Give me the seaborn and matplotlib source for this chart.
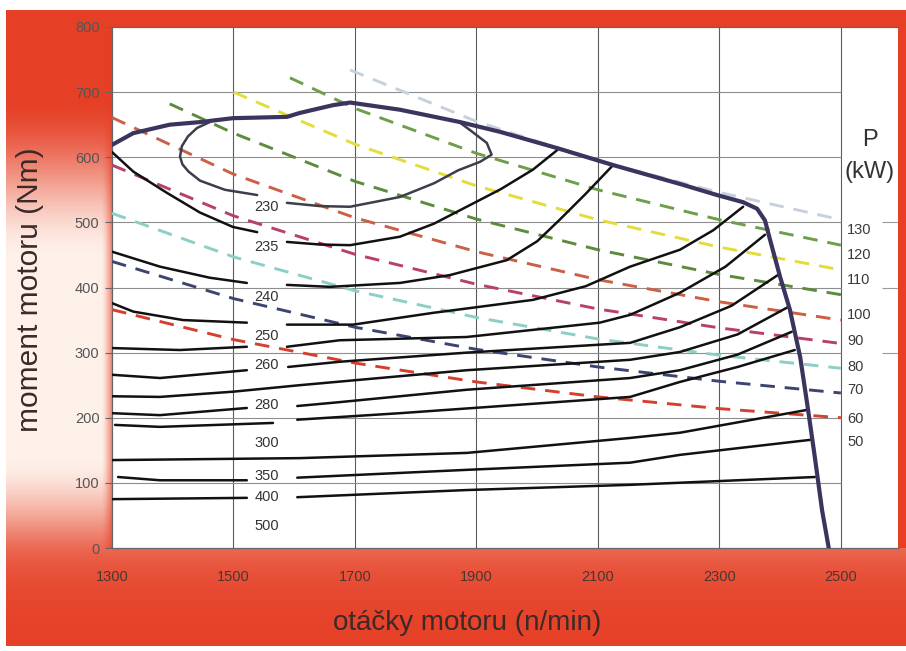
import numpy as np
import matplotlib
matplotlib.use("Agg")
import matplotlib.pyplot as plt
import seaborn as sns

# ---------------------------------------------------------------- data
# full-load torque curve (rpm, Nm)
full_load_rpm = [1300, 1335, 1395, 1445, 1499, 1588, 1609, 1664, 1692, 1774, 1873,
                 1939, 2033, 2125, 2235, 2296, 2339, 2362, 2375, 2382, 2400, 2416,
                 2433, 2446, 2457, 2469, 2480]
full_load_nm = [619, 637, 650, 654, 660, 662, 668, 680, 684, 673, 654,
                639, 614, 588, 559, 542, 531, 521, 503, 478, 416, 366,
                293, 212, 140, 58, 0]

# specific fuel consumption iso-lines (None = break for the inline label)
island_rpm = [1461, 1440, 1425, 1415, 1412, 1416, 1426, 1445, 1486, 1539, None,
              1588, 1642, 1692, 1774, 1830, 1870, 1906, 1925, 1917, 1889, 1873]
island_nm = [654, 645, 632, 617, 601, 589, 578, 564, 550, 542, None,
             530, 525, 524, 539, 560, 580, 593, 604, 622, 642, 653]

c235_rpm = [1300, 1335, 1391, 1445, 1499, 1539, None, 1588, 1642, 1692, 1774, 1830,
            1884, 1940, 1993, 2033]
c235_nm = [608, 578, 545, 515, 493, 485, None, 470, 466, 465, 478, 498,
           524, 551, 581, 611]

c240_rpm = [1300, 1379, 1461, 1522, None, 1588, 1659, 1774, 1856, 1950, 2000, 2037, 2080, 2125]
c240_nm = [455, 432, 415, 407, None, 404, 401, 407, 419, 442, 471, 504, 544, 588]

c250_rpm = [1300, 1335, 1417, 1522, None, 1588, 1697, 1828, 1993, 2080, 2153, 2235, 2290, 2339]
c250_nm = [376, 363, 350, 346, None, 343, 343, 361, 381, 402, 432, 458, 488, 524]

c255_rpm = [1300, 1412, 1522, None, 1588, 1675, 1884, 2103, 2153, 2235, 2310, 2375]
c255_nm = [307, 304, 309, None, 309, 319, 324, 346, 358, 392, 432, 481]

c260_rpm = [1300, 1379, 1522, None, 1590, 1675, 1884, 2153, 2235, 2320, 2396]
c260_nm = [266, 261, 273, None, 278, 286, 300, 315, 339, 372, 419]

c270_rpm = [1300, 1379, 1499, 1609, 1884, 2153, 2235, 2330, 2413]
c270_nm = [233, 232, 240, 250, 273, 289, 301, 328, 370]

c280_rpm = [1300, 1379, 1522, None, 1605, 1675, 1884, 2153, 2235, 2330, 2419]
c280_nm = [207, 204, 215, None, 218, 224, 243, 261, 273, 297, 332]

c290_rpm = [1305, 1379, 1565, None, 1605, 1774, 2153, 2235, 2330, 2424]
c290_nm = [189, 186, 192, None, 197, 207, 232, 255, 278, 304]

c300_rpm = [1300, 1609, 1884, 2153, 2235, 2444]
c300_nm = [135, 138, 146, 169, 177, 212]

c350_rpm = [1310, 1379, 1522, None, 1605, 1884, 2153, 2235, 2449]
c350_nm = [109, 104, 104, None, 108, 120, 131, 143, 166]

c400_rpm = [1300, 1522, None, 1605, 1884, 2153, 2457]
c400_nm = [75, 77, None, 78, 89, 97, 109]

bsfc_labels = ["230", "235", "240", "250", "260", "280", "300", "350", "400", "500"]
bsfc_label_nm = [524, 462, 386, 326, 281, 220, 161, 111, 78, 34]

# constant power lines (rpm, Nm)
p130_rpm = [1692, 1900, 2100, 2300, 2500]
p130_nm = [734, 655, 594, 546, 504]
p120_rpm = [1593, 1700, 1900, 2100, 2300, 2500]
p120_nm = [722, 675, 606, 550, 504, 465]
p110_rpm = [1500, 1700, 1900, 2100, 2300, 2500]
p110_nm = [700, 620, 556, 504, 462, 427]
p100_rpm = [1395, 1500, 1700, 1900, 2100, 2300, 2500]
p100_nm = [682, 637, 563, 505, 458, 420, 389]
grid_rpm = [1300, 1500, 1700, 1900, 2100, 2300, 2500]
p90_nm = [661, 574, 507, 455, 412, 378, 350]
p80_nm = [588, 510, 451, 405, 367, 338, 314]
p70_nm = [514, 447, 395, 354, 321, 296, 276]
p60_nm = [440, 383, 339, 305, 278, 256, 238]
p50_nm = [366, 320, 284, 255, 232, 214, 200]

power_labels = ["130", "120", "110", "100", "90", "80", "70", "60", "50"]
power_label_nm = [488, 450, 412, 358, 318, 278, 243, 198, 163]

x_ticks = [1300, 1500, 1700, 1900, 2100, 2300, 2500]
y_ticks = [0, 100, 200, 300, 400, 500, 600, 700, 800]

# ---------------------------------------------------------------- style
sns.set_theme(style="white")
plt.rcParams["font.family"] = ["Liberation Sans", "DejaVu Sans"]

fig = plt.figure(figsize=(9.06, 6.51), dpi=100)

# red backdrop that fades to pale on the left
H, W = 651, 906
yy, xx = np.mgrid[0:H, 0:W].astype(float)


def smooth(t):
    t = np.clip(t, 0, 1)
    return t * t * (3 - 2 * t)


red = np.array([0.90, 0.25, 0.15])
pale = np.array([1.0, 0.975, 0.95])
w = 0.96 * smooth((yy - 95) / 165) * (1 - smooth((yy - 455) / 135))
w *= 1 - smooth((xx - 100) / 20)
glow = 0.22 * np.exp(-np.clip(yy - 548, 0, None) / 30) * (yy >= 548)
w = np.maximum(w, glow)
img = red * (1 - w[..., None]) + pale * w[..., None]
img[:10] = 1
img[:, :6] = 1
img[646:] = 1
bg = fig.add_axes([0, 0, 1, 1], zorder=0)
bg.imshow(img, aspect="auto", interpolation="bilinear")
bg.axis("off")

ax = fig.add_axes([112 / 906, 1 - 548 / 651, 786 / 906, 521 / 651], zorder=1)
ax.set_facecolor("white")

# grid
ax.vlines(x_ticks[1:], 0, 800, color="#5c5c5c", lw=0.8, zorder=1)
ax.hlines(y_ticks[1:-1], 1300, 2500, color="#8e8e8e", lw=0.8, zorder=1)
ax.hlines([300, 400, 500], 2568, 2594, color="#9a9a9a", lw=0.8, zorder=1)


def segments(rpm, nm):
    sx, sy = [], []
    for a, b in zip(rpm, nm):
        if a is None:
            yield sx, sy
            sx, sy = [], []
        else:
            sx.append(a)
            sy.append(b)
    yield sx, sy


def draw(rpm, nm, **kw):
    for sx, sy in segments(rpm, nm):
        sns.lineplot(x=sx, y=sy, sort=False, estimator=None, ax=ax,
                     legend=False, solid_capstyle="round",
                     solid_joinstyle="round", **kw)


# constant power lines
dash = (0, (5, 3.4))
power_lines = [
    (p130_rpm, p130_nm, "#c6d1de"),
    (p120_rpm, p120_nm, "#6e9e4a"),
    (p110_rpm, p110_nm, "#e2dd3a"),
    (p100_rpm, p100_nm, "#5d8b3d"),
    (grid_rpm, p90_nm, "#cc6046"),
    (grid_rpm, p80_nm, "#b8406a"),
    (grid_rpm, p70_nm, "#8ccfc6"),
    (grid_rpm, p60_nm, "#3d4470"),
    (grid_rpm, p50_nm, "#d5402e"),
]
for r, t, c in power_lines:
    sns.lineplot(x=r, y=t, sort=False, estimator=None, ax=ax, legend=False,
                 color=c, lw=2.1, linestyle=dash, zorder=3)

# fuel consumption lines
draw(island_rpm, island_nm, color="#3b3f4c", lw=1.8, zorder=4)
for r, t in [(c235_rpm, c235_nm), (c240_rpm, c240_nm), (c250_rpm, c250_nm),
             (c255_rpm, c255_nm), (c260_rpm, c260_nm), (c270_rpm, c270_nm),
             (c280_rpm, c280_nm), (c290_rpm, c290_nm), (c300_rpm, c300_nm),
             (c350_rpm, c350_nm), (c400_rpm, c400_nm)]:
    draw(r, t, color="#111111", lw=1.8, zorder=4)

# full-load curve
draw(full_load_rpm, full_load_nm, color="#3a345f", lw=3.0, zorder=5)

for lab, t in zip(bsfc_labels, bsfc_label_nm):
    ax.text(1555, t, lab, ha="center", va="center", fontsize=10.5,
            color="#333333", zorder=6)

for lab, t in zip(power_labels, power_label_nm):
    ax.text(2510, t, lab, ha="left", va="center", fontsize=10.5,
            color="#3a3a3a", zorder=6)
ax.text(2547, 627, "P", ha="center", va="center", fontsize=17, color="#333333")
ax.text(2547, 578, "(kW)", ha="center", va="center", fontsize=17, color="#333333")

# axes
ax.set_xlim(1300, 2594)
ax.set_ylim(0, 800)
ax.set_xticks(x_ticks)
ax.set_yticks(y_ticks)
ax.tick_params(axis="x", length=0, pad=16, labelsize=10.5, labelcolor="#4d3530")
ax.tick_params(axis="y", left=True, length=5, width=0.8, color="#666666",
               pad=4, labelsize=10.5, labelcolor="#555555")
for side in ["left", "bottom", "top"]:
    ax.spines[side].set_color("#666666")
    ax.spines[side].set_linewidth(0.9)
ax.spines["right"].set_visible(False)

ax.set_xlabel("otáčky motoru (n/min)", fontsize=20, color="#3d2a28")
ax.xaxis.set_label_coords(0.4517, -0.144)
ax.xaxis.label.set_va("center")
ax.set_ylabel("moment motoru (Nm)", fontsize=21.5, color="#3a2a28")
ax.yaxis.set_label_coords(-0.104, 0.495)
ax.yaxis.label.set_va("center")

fig.savefig("out.png", dpi=100)
